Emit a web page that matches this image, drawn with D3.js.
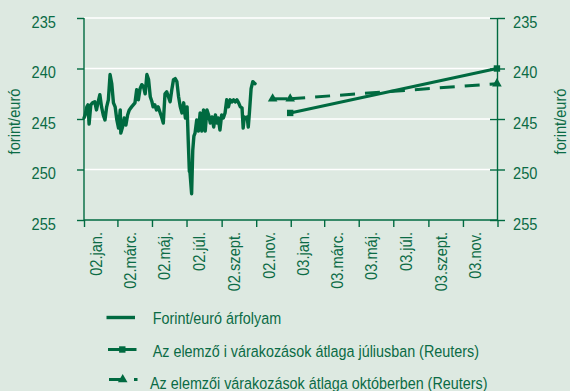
<!DOCTYPE html>
<html>
<head>
<meta charset="utf-8">
<script src="https://cdn.jsdelivr.net/npm/d3@7"></script>
<style>
  html, body { margin: 0; padding: 0; background: #dde9e1; }
  svg { display: block; }
  text { font-family: "Liberation Sans", Arial, sans-serif; fill: #0b6b45; }
</style>
</head>
<body>
<svg id="chart" width="570" height="391"></svg>
<script>
// Daily forint/euro exchange rate, 2002
const rateDates = [
  "2002-01-01","2002-01-03","2002-01-06","2002-01-08","2002-01-10","2002-01-13","2002-01-16","2002-01-20",
  "2002-01-23","2002-01-26","2002-01-29","2002-02-01","2002-02-04","2002-02-07","2002-02-10","2002-02-13",
  "2002-02-16","2002-02-19","2002-02-22","2002-02-25","2002-02-28","2002-03-03","2002-03-06","2002-03-07",
  "2002-03-10","2002-03-13","2002-03-16","2002-03-19","2002-03-22","2002-03-26","2002-03-29","2002-04-01",
  "2002-04-04","2002-04-07","2002-04-10","2002-04-13","2002-04-16","2002-04-19","2002-04-22","2002-04-25",
  "2002-04-28","2002-05-01","2002-05-03","2002-05-06","2002-05-09","2002-05-12","2002-05-15","2002-05-18",
  "2002-05-21","2002-05-24","2002-05-27","2002-05-30","2002-06-02","2002-06-05","2002-06-08","2002-06-11",
  "2002-06-14","2002-06-17","2002-06-20","2002-06-23","2002-06-26","2002-06-29","2002-07-02","2002-07-04",
  "2002-07-06","2002-07-07","2002-07-10","2002-07-12","2002-07-14","2002-07-16","2002-07-19","2002-07-22",
  "2002-07-25","2002-07-28","2002-07-31","2002-08-03","2002-08-06","2002-08-09","2002-08-12","2002-08-15",
  "2002-08-18","2002-08-21","2002-08-24","2002-08-26","2002-08-29","2002-09-01","2002-09-04","2002-09-07",
  "2002-09-10","2002-09-13","2002-09-16","2002-09-19","2002-09-22","2002-09-25","2002-09-28","2002-10-01",
  "2002-10-04","2002-10-07","2002-10-09","2002-10-11","2002-10-13","2002-10-16","2002-10-18","2002-10-20",
  "2002-10-23","2002-10-26","2002-10-30"
];
const rateValues = [
  244.9,244.6,243.8,243.6,245.5,243.6,243.4,243.3,
  244.1,243.3,242.6,243.8,244.6,245.1,243.8,243.1,
  240.6,241.5,243.4,243.8,245.1,245.9,244.1,246.4,
  245.8,244.9,245.6,244.6,244.1,243.8,243.6,243.4,
  242.1,243.1,242.0,241.6,241.8,242.5,240.6,241.1,
  242.8,243.3,243.8,243.6,244.1,243.8,244.3,244.8,
  245.4,242.5,242.3,242.8,243.3,242.1,241.1,241.0,
  241.3,242.8,243.8,244.4,243.4,244.9,243.8,247.1,
  250.2,250.2,252.4,248.1,246.7,246.4,245.1,246.2,
  244.4,246.2,244.1,246.2,244.1,244.6,245.4,244.8,
  245.8,244.6,245.4,244.9,246.1,244.6,244.9,244.4,
  243.1,243.8,243.1,243.3,243.1,243.3,243.1,243.4,
  243.8,243.9,245.9,244.8,244.9,244.8,245.8,244.4,
  242.0,241.3,241.5
];

// Analysts' average expectations (Reuters)
const julyDates = ["2002-12-31", "2003-12-31"];
const julyValues = [244.4, 240.0];
const octDates = ["2002-11-30", "2002-12-31", "2003-12-31"];
const octValues = [243.0, 243.0, 241.5];

const yTicks = [235, 240, 245, 250, 255];
const xTickLabels = ["02.jan.","02.márc.","02.máj.","02.júl.","02.szept.","02.nov.",
                     "03.jan.","03.márc.","03.máj.","03.júl.","03.szept.","03.nov."];
const axisTitle = "forint/euró";
const legendLabels = [
  "Forint/euró árfolyam",
  "Az elemző i várakozások átlaga júliusban (Reuters)",
  "Az elemzői várakozások átlaga októberben (Reuters)"
];

const green = "#006a40";
const parse = d3.timeParse("%Y-%m-%d");
const svg = d3.select("#chart");
const narrow = 0.86;   // horizontal condensing of all lettering

const plot = { left: 84, right: 497.5, top: 18, bottom: 220 };
const x = d3.scaleTime()
  .domain([parse("2002-01-01"), parse("2004-01-01")])
  .range([plot.left, plot.right]);
const y = d3.scaleLinear().domain([235, 255]).range([plot.top, plot.bottom]);

// white horizontal gridlines
svg.append("g").selectAll("line")
  .data(yTicks.filter(v => v !== 255))
  .join("line")
  .attr("x1", plot.left).attr("x2", plot.right)
  .attr("y1", d => y(d)).attr("y2", d => y(d))
  .attr("stroke", "#ffffff").attr("stroke-width", 1.3);

// left axis
const gLeft = svg.append("g")
  .attr("transform", `translate(${plot.left},0)`)
  .call(d3.axisLeft(y).tickValues(yTicks).tickSize(7).tickFormat(d3.format("d")));

// right axis, ticks crossing the line
const gRight = svg.append("g")
  .attr("transform", `translate(${plot.right},0)`)
  .call(d3.axisRight(y).tickValues(yTicks).tickSize(7.5).tickFormat(d3.format("d")));
gRight.selectAll(".tick line").attr("x1", -7.5);

// bottom axis
const monthTicks = d3.timeMonth.every(2).range(parse("2002-01-01"), parse("2004-01-02"));
const gBottom = svg.append("g")
  .attr("transform", `translate(0,${plot.bottom})`)
  .call(d3.axisBottom(x).tickValues(monthTicks).tickSize(7).tickFormat(() => ""));

[gLeft, gRight, gBottom].forEach(g => {
  g.select(".domain").attr("stroke", green).attr("stroke-width", 1.4);
  g.selectAll(".tick line").attr("stroke", green).attr("stroke-width", 1.4);
});
gBottom.select(".domain").attr("d", `M${plot.left},0H${plot.right}`);
[[gLeft, -28, "end"], [gRight, 15.5, "start"]].forEach(([g, off, anchor]) => {
  g.select(".domain").attr("d", `M0,${plot.top}V${plot.bottom}`);
  g.selectAll(".tick text")
    .attr("x", 0).attr("dy", 9)
    .attr("text-anchor", anchor)
    .attr("transform", `translate(${off},0) scale(${narrow},1)`)
    .attr("font-size", 17)
    .style("font-family", '"Liberation Sans", Arial, sans-serif')
    .attr("fill", "#0b6b45");
});

// rotated month labels
svg.append("g").selectAll("text")
  .data(xTickLabels)
  .join("text")
  .attr("transform", (d, i) => `translate(${x(monthTicks[i]) + 12.5},232) rotate(-90) scale(${narrow},1)`)
  .attr("text-anchor", "end")
  .attr("dy", "0.35em")
  .attr("font-size", 17)
  .text(d => d);

// axis titles
[[14, 121.5], [560.5, 121.5]].forEach(([tx, ty]) => {
  svg.append("text")
    .attr("transform", `translate(${tx},${ty}) rotate(-90) scale(${narrow},1)`)
    .attr("text-anchor", "middle")
    .attr("dy", "0.35em")
    .attr("font-size", 17)
    .text(axisTitle);
});

// exchange rate line
const rate = rateDates.map((d, i) => ({ date: parse(d), value: rateValues[i] }));
const line = d3.line().x(d => x(d.date)).y(d => y(d.value));
svg.append("path")
  .datum(rate)
  .attr("d", line)
  .attr("fill", "none")
  .attr("stroke", green)
  .attr("stroke-width", 3.4)
  .attr("stroke-linejoin", "round")
  .attr("stroke-linecap", "round");

// July expectations: solid line with square markers
const july = julyDates.map((d, i) => ({ date: parse(d), value: julyValues[i] }));
svg.append("path")
  .datum(july)
  .attr("d", line)
  .attr("fill", "none")
  .attr("stroke", green)
  .attr("stroke-width", 3);
svg.append("g").selectAll("rect")
  .data(july)
  .join("rect")
  .attr("x", d => x(d.date) - 3.2).attr("y", d => y(d.value) - 3.2)
  .attr("width", 6.4).attr("height", 6.4)
  .attr("fill", green);

// October expectations: dashed line (pattern restarts at each point) with triangles
const oct = octDates.map((d, i) => ({ date: parse(d), value: octValues[i] }));
const dash = "15,10";
svg.append("g").selectAll("path")
  .data(d3.pairs(oct))
  .join("path")
  .attr("d", d => line(d))
  .attr("fill", "none")
  .attr("stroke", green)
  .attr("stroke-width", 3)
  .attr("stroke-dasharray", dash);
const tri = d3.symbol().type(d3.symbolTriangle).size(40);
svg.append("g").selectAll("path")
  .data(oct)
  .join("path")
  .attr("transform", d => `translate(${x(d.date)},${y(d.value)})`)
  .attr("d", tri)
  .attr("fill", green);

// legend
const legendRows = [317.5, 349.5, 379.5];
const legendBaselines = [324.3, 357, 389];
const lg = svg.append("g");
lg.append("line").attr("x1", 106.5).attr("x2", 135).attr("y1", legendRows[0]).attr("y2", legendRows[0])
  .attr("stroke", green).attr("stroke-width", 3.4);
lg.append("line").attr("x1", 108).attr("x2", 136.5).attr("y1", legendRows[1]).attr("y2", legendRows[1])
  .attr("stroke", green).attr("stroke-width", 3);
lg.append("rect").attr("x", 122.3 - 3.2).attr("y", legendRows[1] - 3.2).attr("width", 6.4).attr("height", 6.4)
  .attr("fill", green);
lg.append("line").attr("x1", 109).attr("x2", 137.5).attr("y1", legendRows[2]).attr("y2", legendRows[2])
  .attr("stroke", green).attr("stroke-width", 3).attr("stroke-dasharray", dash);
lg.append("path").attr("transform", `translate(122.7,${legendRows[2]})`).attr("d", tri).attr("fill", green);

lg.selectAll("text.leg")
  .data(legendLabels)
  .join("text")
  .attr("class", "leg")
  .attr("transform", (d, i) => `translate(${i === 2 ? 150 : 152.7},${legendBaselines[i]}) scale(${narrow},1)`)
  .attr("font-size", 16.7)
  .text(d => d);
</script>
</body>
</html>
